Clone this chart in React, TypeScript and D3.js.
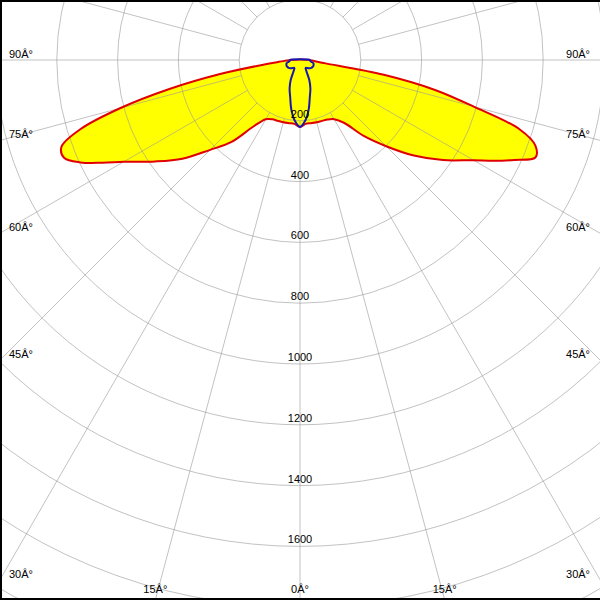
import React from "react";
import * as d3 from "d3";

// polar angles (deg from nadir) and intensities in cd
const angles = [0, 5, 10, 15, 20, 25, 30, 35, 40, 45, 50, 55, 60, 62.5, 65, 67.5, 70, 72.5, 75, 77.5, 80, 82.5, 85, 87.5, 90];
const leftCd = [220, 211, 211, 212, 213, 215, 225, 267, 353, 418, 505, 582, 670, 732, 797, 840, 835, 758, 613, 440, 270, 130, 70, 45, 33];
const rightCd = [220, 211, 211, 212, 213, 216, 225, 252, 326, 401, 489, 574, 659, 718, 778, 838, 824, 757, 590, 455, 280, 85, 50, 40, 33];
const crossCd = [220, 200, 165, 125, 100, 72, 42, 32, 34, 38, 42, 45, 47, 47.5, 48, 48, 47.5, 47, 46, 44, 40, 36, 34, 33, 33];

const ringValues = [200, 400, 600, 800, 1000, 1200, 1400, 1600, 1800, 2000, 2200];
const ringLabels = [200, 400, 600, 800, 1000, 1200, 1400, 1600];
const spokeAngles = d3.range(0, 360, 15);
const angleLabels = [0, 15, 30, 45, 60, 75, 90];

const W = 600;
const H = 600;
const cx = 300;
const cy = 60;

const r = d3.scaleLinear().domain([0, 200]).range([0, 60.8]);
const rad = (deg: number) => (deg * Math.PI) / 180;

type P = { a: number; v: number };

// lineRadial: angle clockwise from up; nadir-based angle -> PI -/+ theta
const halves = (left: number[], right: number[]): P[] => {
  const pts: P[] = [];
  for (let i = angles.length - 1; i >= 0; i--) pts.push({ a: Math.PI + rad(angles[i]), v: left[i] });
  for (let i = 1; i < angles.length; i++) pts.push({ a: Math.PI - rad(angles[i]), v: right[i] });
  return pts;
};

const curve = d3
  .lineRadial<P>()
  .angle((d) => d.a)
  .radius((d) => r(d.v))
  .curve(d3.curveCatmullRomClosed.alpha(0.5));

const font = "'Liberation Sans', Arial, sans-serif";

// where a spoke at nadir angle deg leaves the frame
const exitPoint = (deg: number, side: number) => {
  const t = rad(deg);
  const dx = Math.sin(t);
  const dy = Math.cos(t);
  const tx = dx > 1e-6 ? cx / dx : Infinity;
  const ty = dy > 1e-6 ? (H - cy) / dy : Infinity;
  if (tx < ty) return { x: cx - side * tx * dx, y: cy + tx * dy, edge: "side" };
  return { x: cx - side * ty * dx, y: cy + ty * dy, edge: "bottom" };
};

export default function App() {
  const mainPath = curve(halves(leftCd, rightCd)) as string;
  const crossPath = curve(halves(crossCd, crossCd)) as string;

  const labelNodes: React.ReactNode[] = [];
  angleLabels.forEach((deg) => {
    [1, -1].forEach((side) => {
      if (deg === 0 && side === -1) return;
      const p = exitPoint(deg, side);
      const text = `${deg}\u00C2\u00B0`;
      if (p.edge === "side") {
        labelNodes.push(
          <text key={`${deg}${side}`} x={side === 1 ? 9 : 590} y={p.y - 2} textAnchor={side === 1 ? "start" : "end"}>
            {text}
          </text>
        );
      } else {
        labelNodes.push(
          <text key={`${deg}${side}`} x={p.x} y={593} textAnchor="middle">
            {text}
          </text>
        );
      }
    });
  });

  return (
    <svg width={W} height={H} style={{ position: "absolute", left: 0, top: 0, background: "#fff" }}>
      <rect width={W} height={H} fill="#fff" />
      <g transform={`translate(${cx},${cy})`}>
        <path d={mainPath} fill="#ffff00" stroke="none" />
        <g stroke="#9a9a9a" strokeOpacity={0.6} fill="none" strokeWidth={1}>
          {ringValues.map((v) => (
            <circle key={v} r={r(v)} />
          ))}
          {spokeAngles.map((a) => {
            const t = rad(a);
            const r0 = r(200);
            const r1 = r(2600);
            return (
              <line
                key={a}
                x1={r0 * Math.sin(t)}
                y1={r0 * Math.cos(t)}
                x2={r1 * Math.sin(t)}
                y2={r1 * Math.cos(t)}
              />
            );
          })}
        </g>
        <path d={mainPath} fill="none" stroke="#e00000" strokeWidth={2} strokeLinejoin="round" />
        <path d={crossPath} fill="none" stroke="#1818b0" strokeWidth={2} strokeLinejoin="round" />
        <g fontFamily={font} fontSize={11} fill="#000" textAnchor="middle">
          {ringLabels.map((v) => (
            <text key={v} x={0} y={r(v) - 3}>
              {v}
            </text>
          ))}
        </g>
      </g>
      <g fontFamily={font} fontSize={11} fill="#000">
        {labelNodes}
      </g>
      <g stroke="#000" strokeWidth={2}>
        <line x1={1} y1={0} x2={1} y2={H} />
        <line x1={0} y1={1} x2={W} y2={1} />
        <line x1={0} y1={599} x2={W} y2={599} />
      </g>
    </svg>
  );
}
